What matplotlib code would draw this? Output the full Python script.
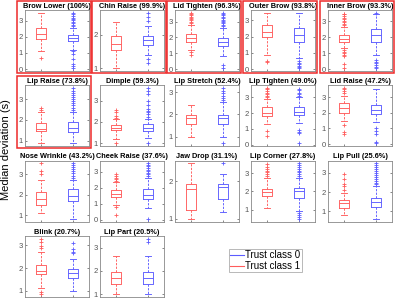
import matplotlib
matplotlib.use("Agg")
import matplotlib.pyplot as plt
from matplotlib.lines import Line2D
from matplotlib.patches import Rectangle
from matplotlib.ticker import MultipleLocator

plt.rcParams['font.family'] = ['Liberation Sans', 'DejaVu Sans']

titles = ["Brow Lower (100%)", "Chin Raise (99.9%)", "Lid Tighten (96.3%)",
          "Outer Brow (93.8%)", "Inner Brow (93.3%)",
          "Lip Raise (73.8%)", "Dimple (59.3%)", "Lip Stretch (52.4%)",
          "Lip Tighten (49.0%)", "Lid Raise (47.2%)",
          "Nose Wrinkle (43.2%)", "Cheek Raise (37.6%)", "Jaw Drop (31.1%)",
          "Lip Corner (27.8%)", "Lip Pull (25.6%)",
          "Blink (20.7%)", "Lip Part (20.5%)"]

# whislo, q1, med, q3, whishi  (trust class 1, red)
red_stats = [[1.1, 1.85, 2.15, 2.55, 3.5], [1.0, 1.55, 1.72, 1.97, 2.37],
             [1.23, 1.7, 1.98, 2.22, 2.8], [0.84, 1.96, 2.27, 2.73, 3.46],
             [1.3, 1.68, 1.89, 2.16, 2.65],
             [0.88, 1.45, 1.58, 1.83, 2.37], [1.19, 1.6, 1.72, 1.85, 2.15],
             [0.98, 1.55, 1.83, 1.97, 2.41], [1.3, 1.8, 2.0, 2.37, 2.9],
             [1.5, 2.0, 2.3, 2.6, 3.1],
             [1.12, 1.5, 1.82, 2.15, 2.75], [0.92, 1.42, 1.63, 1.88, 2.35],
             [1.0, 1.24, 1.8, 1.92, 2.48], [1.1, 1.74, 1.97, 2.16, 2.75],
             [0.8, 1.2, 1.45, 1.6, 1.95],
             [1.13, 1.72, 1.86, 2.12, 2.7], [1.0, 1.43, 1.71, 1.97, 2.65]]
red_out = [[0.7], [], [2.9, 3.0, 3.1, 3.15, 3.2, 3.3, 3.4, 3.5, 3.56, 1.08, 0.88],
           [0.52, 0.42],
           [2.75, 2.85, 2.95, 3.05, 3.15, 3.25, 3.35, 3.45, 3.5, 1.2, 1.1, 1.0, 0.9, 0.85, 0.3, 0.05],
           [2.5, 2.57], [2.2, 2.3, 2.45, 2.55, 1.0], [],
           [3.0, 3.1, 3.2, 3.3, 3.4, 3.5, 3.6, 0.9, 0.56],
           [3.25, 3.4, 3.5, 3.6, 1.2, 0.8, 0.62],
           [3.0, 3.17, 3.55], [2.45, 2.55, 2.65, 2.75, 2.85, 0.8, 0.3], [],
           [2.85, 2.95, 3.05, 3.15, 3.25, 3.35, 3.5],
           [2.1, 2.3, 2.4, 2.7, 2.95],
           [2.9, 2.97, 3.15, 3.29, 0.96, 0.85], []]

# whislo, q1, med, q3, whishi  (trust class 0, blue)
blue_stats = [[1.2, 1.75, 1.9, 2.1, 2.55], [1.4, 1.7, 1.85, 1.97, 2.25],
              [0.82, 1.45, 1.7, 1.98, 2.6], [0.7, 1.68, 2.1, 2.52, 3.46],
              [0.88, 1.68, 2.15, 2.55, 3.45],
              [0.88, 1.42, 1.62, 1.9, 2.4], [1.23, 1.57, 1.72, 1.88, 2.15],
              [0.98, 1.55, 1.83, 1.97, 2.55], [1.35, 1.88, 2.1, 2.4, 3.0],
              [1.4, 1.93, 2.15, 2.5, 3.55],
              [0.83, 1.72, 1.95, 2.28, 2.75], [0.72, 1.3, 1.57, 1.9, 2.65],
              [1.18, 1.53, 1.85, 1.94, 2.2], [0.95, 1.63, 2.0, 2.2, 2.75],
              [0.62, 1.22, 1.47, 1.72, 2.3],
              [0.98, 1.57, 1.79, 1.98, 2.42], [1.0, 1.43, 1.71, 1.97, 2.65]]
blue_out = [[2.65, 2.75, 2.85, 2.95, 3.05, 3.1, 3.2, 3.3, 3.4, 3.5, 1.1, 0.95, 0.65, 0.3, 0.2, 0.05],
            [2.4, 2.53, 2.65, 1.27, 1.15],
            [2.7, 2.8, 2.9, 3.0, 3.05, 3.1, 3.2, 3.3, 3.4, 3.5, 3.56, 0.26, 0.06],
            [0.5, 0.4, 0.3, 0.2, 0.1, 0.05],
            [3.55, 0.55, 0.45, 0.35, 0.25, 0.15, 0.05],
            [2.5, 2.6, 2.7, 2.8, 2.9, 3.0, 3.1, 3.2, 3.3, 3.4, 3.55],
            [2.25, 2.35, 2.45, 2.5, 2.6, 2.8, 3.0, 3.3, 3.45, 3.6, 1.0],
            [2.65, 2.75, 2.85, 2.95, 3.05, 3.2, 0.7],
            [3.1, 3.2, 3.3, 3.45, 3.55, 0.92, 0.82, 0.72, 0.1],
            [1.0, 0.85, 0.65, 0.15, 0.05],
            [2.85, 2.95, 3.05, 3.15, 3.25, 3.35, 3.45, 3.55],
            [2.75, 2.85, 2.95, 3.05, 3.15, 3.25, 3.35, 3.45, 3.55, 0.05],
            [2.48],
            [2.85, 2.95, 3.05, 3.15, 3.25, 3.35, 3.45, 3.55, 0.8, 0.7, 0.6, 0.5],
            [2.4, 2.5, 2.6, 2.7, 2.8, 2.9, 3.0, 3.1, 3.2, 3.3, 3.4, 3.5],
            [2.65, 2.73, 2.85, 3.1], [3.24, 3.38]]

highlighted = [0, 1, 2, 3, 4, 5]
legend_labels = ["Trust class 0", "Trust class 1"]

RED = '#ff5c5c'
BLUE = '#5c5cff'
W, H = 399, 299
fig = plt.figure(figsize=(W / 100, H / 100), dpi=100)

col_left = [25, 100, 175, 251, 328]
row_top = [10, 85, 160.5, 236]
ax_w, ax_h = 64, 61


def make_stats(s, out):
    return dict(whislo=s[0], q1=s[1], med=s[2], q3=s[3], whishi=s[4], fliers=out)


for i, title in enumerate(titles):
    r, c = divmod(i, 5)
    l, t = col_left[c], row_top[r]
    ax = fig.add_axes([l / W, 1 - (t + ax_h) / H, ax_w / W, ax_h / H])
    stats = [make_stats(red_stats[i], red_out[i]), make_stats(blue_stats[i], blue_out[i])]
    art = ax.bxp(stats, positions=[1, 2], widths=0.32, capwidths=0.16, showfliers=True)
    for k, col in enumerate([RED, BLUE]):
        art['boxes'][k].set(color=col, linewidth=0.65)
        art['medians'][k].set(color=col, linewidth=0.65)
        for w in art['whiskers'][2 * k:2 * k + 2]:
            w.set(color=col, linewidth=0.65, linestyle=(0, (2.5, 1.5)))
        for cp in art['caps'][2 * k:2 * k + 2]:
            cp.set(color=col, linewidth=0.65)
        fl = art['fliers'][k]
        fl.set_marker('+')
        fl.set_color(col)
        fl.set_markeredgecolor(col)
        fl.set_markerfacecolor(col)
        fl.set_markersize(3)
        fl.set_markeredgewidth(0.6)
    vals = red_stats[i] + blue_stats[i] + red_out[i] + blue_out[i]
    lo, hi = min(vals), max(vals)
    pad = 0.05 * (hi - lo)
    ax.set_ylim(lo - pad, hi + pad)
    ax.set_xlim(0.5, 2.5)
    ax.set_xticks([1, 2])
    ax.set_xticklabels([])
    ax.yaxis.set_major_locator(MultipleLocator(1))
    ax.tick_params(direction='in', length=1.5, width=0.5, labelsize=5.5,
                   colors='#555555', pad=1.5, top=False, right=True)
    for sp in ax.spines.values():
        sp.set_color('#888888')
        sp.set_linewidth(0.6)
    ax.set_title(title, fontsize=5.3, fontweight='bold', pad=1.5)
    if i in highlighted:
        fig.patches.append(Rectangle(((l - 8) / W, 1 - (t + ax_h + 2) / H),
                                     (ax_w + 10) / W, (ax_h + 11) / H,
                                     transform=fig.transFigure, fill=False,
                                     edgecolor='#ee2a2a', linewidth=1.1))

fig.text(6.5 / W, 1 - 150 / H, "Median deviation (s)", rotation=90,
         fontsize=8, ha='center', va='center')

handles = [Line2D([], [], color=BLUE, linewidth=0.8),
           Line2D([], [], color=RED, linewidth=0.8)]
leg = fig.legend(handles, legend_labels, loc='upper left',
                 bbox_to_anchor=(229 / W, 1 - 249 / H), fontsize=7,
                 frameon=True, fancybox=False, borderpad=0.15,
                 handlelength=1.4, handletextpad=0.1, labelspacing=0.05,
                 borderaxespad=0)
leg.get_frame().set_edgecolor('#999999')
leg.get_frame().set_linewidth(0.6)

fig.savefig('out.png', dpi=100)
